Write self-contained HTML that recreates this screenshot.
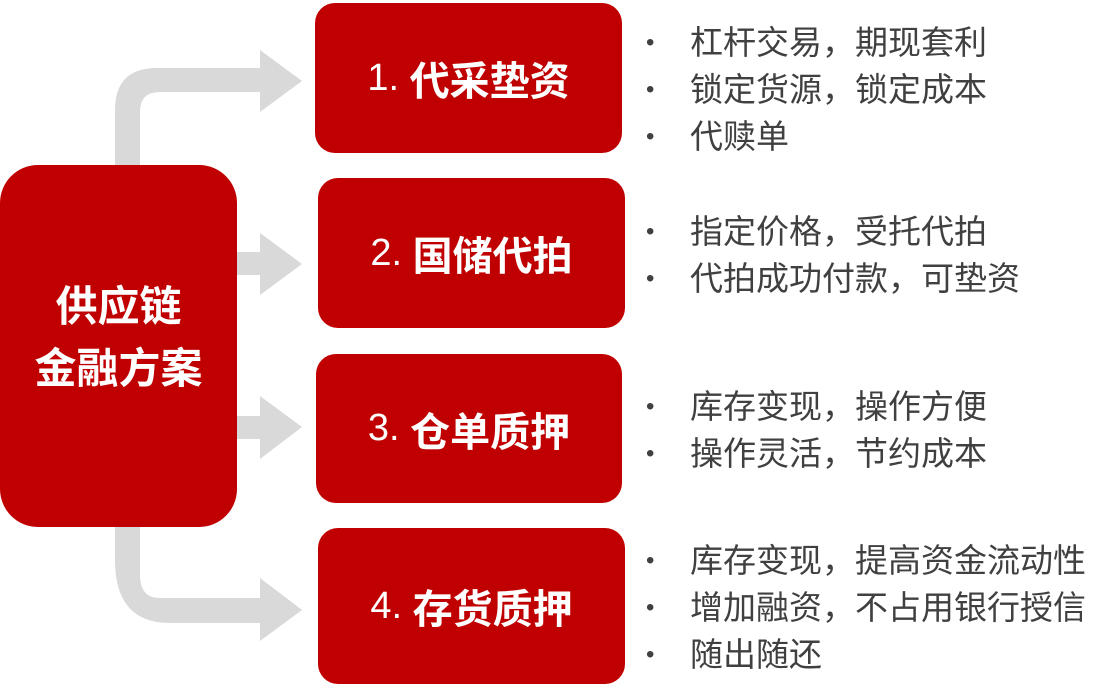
<!DOCTYPE html>
<html><head><meta charset="utf-8"><style>
body{margin:0;width:1117px;height:695px;background:#fff;position:relative;overflow:hidden;font-family:"Liberation Sans","Noto Sans CJK SC",sans-serif}
.b{position:absolute;background:#c00000;border-radius:20px;color:#fff;font-weight:bold;font-size:40px;display:flex;align-items:center;justify-content:center}
.b span{font-weight:normal;font-size:38px}
.t{position:absolute;left:690px;font-size:33px;color:#404040;line-height:47px;white-space:nowrap}
.t div{position:relative}
.t div:before{content:"•";position:absolute;left:-44px;font-size:24px}
</style></head><body>
<svg width="1117" height="695" style="position:absolute;left:0;top:0">
<g fill="#d9d9d9">
<path d="M115 170 V110 Q115 68 157 68 H260 V50 L302 81 L260 112 V92 H160 Q140 92 140 112 V170 Z"/>
<path d="M230 252 H260 V233 L302 264 L260 295 V275 H230 Z"/>
<path d="M230 416 H260 V396 L302 427 L260 459 V439 H230 Z"/>
<path d="M115 520 V560 Q115 623 170 623 H260 V641 L302 610 L260 578 V598 H160 Q140 598 140 575 V520 Z"/>
</g></svg>
<div class="b" style="left:0;top:165px;width:237px;height:346px;padding-bottom:16px;border-radius:38px;font-size:42px;line-height:62px;text-align:center">供应链<br>金融方案</div>
<div class="b" style="left:315px;top:3px;width:307px;height:150px"><span>1.&nbsp;</span>代采垫资</div>
<div class="b" style="left:318px;top:178px;width:307px;height:150px"><span>2.&nbsp;</span>国储代拍</div>
<div class="b" style="left:316px;top:354px;width:306px;height:149px"><span>3.&nbsp;</span>仓单质押</div>
<div class="b" style="left:318px;top:528px;width:307px;height:156px"><span>4.&nbsp;</span>存货质押</div>
<div class="t" style="top:19px"><div>杠杆交易，期现套利</div><div>锁定货源，锁定成本</div><div>代赎单</div></div>
<div class="t" style="top:208px"><div>指定价格，受托代拍</div><div>代拍成功付款，可垫资</div></div>
<div class="t" style="top:383px"><div>库存变现，操作方便</div><div>操作灵活，节约成本</div></div>
<div class="t" style="top:537px"><div>库存变现，提高资金流动性</div><div>增加融资，不占用银行授信</div><div>随出随还</div></div>
</body></html>
